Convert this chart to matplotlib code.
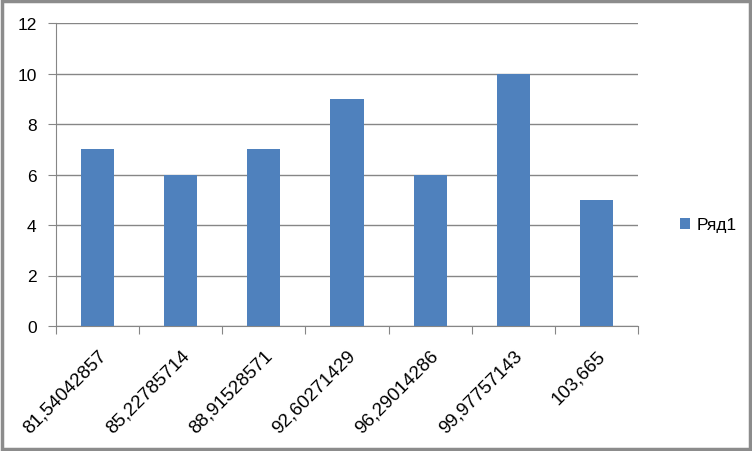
import matplotlib.pyplot as plt
from matplotlib.patches import FancyBboxPatch

categories = ["81,54042857", "85,22785714", "88,91528571", "92,60271429",
              "96,29014286", "99,97757143", "103,665"]
values = [7, 6, 7, 9, 6, 10, 5]
series_name = "Ряд1"

plt.rcParams['font.family'] = ['Liberation Sans', 'DejaVu Sans']

fig = plt.figure(figsize=(7.52, 4.52), dpi=100)
ax = fig.add_axes([56 / 752, 125 / 452, 582 / 752, 303 / 452])

x = range(len(categories))
ax.bar(x, values, width=0.4, color="#4F81BD", label=series_name, zorder=3)

ax.set_xlim(-0.5, len(categories) - 0.5)
ax.set_ylim(0, 12)
ax.set_yticks(range(0, 13, 2))
ax.yaxis.grid(True, color="#868686", linewidth=1, zorder=0)

# category boundary ticks, labels centred under bars
ax.set_xticks([i - 0.5 for i in range(len(categories) + 1)], minor=False)
ax.set_xticklabels([])
ax.set_xticks(list(x), minor=True)
ax.set_xticklabels(categories, minor=True, rotation=45, ha="right", va="top",
                   rotation_mode="anchor", fontsize=13.5)
ax.tick_params(axis="x", which="minor", length=0, pad=15)
ax.tick_params(axis="x", which="major", length=6, color="#868686")
ax.tick_params(axis="y", length=6, color="#868686", labelsize=12.5, pad=8)

for side in ["top", "right"]:
    ax.spines[side].set_visible(False)
for side in ["left", "bottom"]:
    ax.spines[side].set_color("#868686")

ax.legend(loc="center left", bbox_to_anchor=(664 / 752, 226 / 452),
          bbox_transform=fig.transFigure, frameon=False, fontsize=12.5,
          handlelength=0.6, handleheight=0.6, handletextpad=0.4)

fig.patches.append(FancyBboxPatch((0.003, 0.005), 0.994, 0.99, boxstyle="square,pad=0",
                                  transform=fig.transFigure, fill=False,
                                  edgecolor="#8c8c8c", linewidth=2.5))

fig.savefig("out.png", dpi=100)
